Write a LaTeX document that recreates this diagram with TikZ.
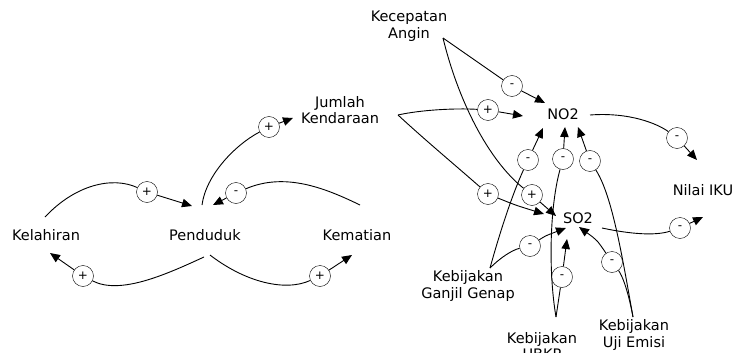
\documentclass[tikz,border=0pt]{standalone}
\usepackage{fontspec}
\setmainfont{DejaVu Sans}
\usetikzlibrary{arrows.meta}
\tikzset{
  lbl/.style={align=center, inner sep=0pt, font=\fontsize{14.5}{16.5}\selectfont},
  pol/.style={draw, circle, minimum size=21pt, inner sep=0pt, fill=white, font=\fontsize{12}{12}\selectfont},
  lnk/.style={line width=0.9pt},
  arr/.style={line width=0.9pt, -{Triangle[length=10pt,width=8.5pt]}}
}
\begin{document}
\begin{tikzpicture}[x=1pt,y=-1pt]
\useasboundingbox (0,0) rectangle (734,353);
% labels
\node[lbl] (kel) at (46,235) {Kelahiran};
\node[lbl] (pen) at (205,235) {Penduduk};
\node[lbl] (kem) at (357,235) {Kematian};
\node[lbl] (jum) at (340,110) {Jumlah\\Kendaraan};
\node[lbl] (kec) at (409,26) {Kecepatan\\Angin};
\node[lbl] (no2) at (563,114) {NO2};
\node[lbl] (so2) at (578,218) {SO2};
\node[lbl] (iku) at (703,190) {Nilai IKU};
\node[lbl] (gg) at (468,286) {Kebijakan\\Ganjil Genap};
\node[lbl] (ubkp) at (542,346) {Kebijakan\\UBKP};
\node[lbl] (uji) at (634,335) {Kebijakan\\Uji Emisi};
% connector end points
\coordinate (s1) at (45,217);   \coordinate (t1) at (192,206);
\coordinate (s2) at (204,257);  \coordinate (t2) at (50,253);
\coordinate (s3) at (210,255);  \coordinate (t3) at (352,255);
\coordinate (s4) at (360,205);  \coordinate (t4) at (213,205);
\coordinate (s5) at (202,205);  \coordinate (t5) at (293,118);
\coordinate (k) at (443,38);
\coordinate (j) at (398,115);
\coordinate (g) at (490,268);
\coordinate (u) at (556,317);
\coordinate (e) at (633,317);
\coordinate (t6) at (545,103);
\coordinate (t7) at (556,216);
\coordinate (t8) at (523,116);
\coordinate (t9) at (544,214);
\coordinate (s10) at (590,115); \coordinate (t10) at (697,160);
\coordinate (s11) at (602,228); \coordinate (t11) at (703,217);
\coordinate (t12) at (543,128);
\coordinate (t13) at (566,228);
\coordinate (t14) at (565,127);
\coordinate (t15) at (567,239);
\coordinate (t16) at (578,127);
\coordinate (t17) at (579,227);
% polarity circles
\node[pol] (p1) at (147,192) {+};
\node[pol] (p2) at (83,276) {+};
\node[pol] (p3) at (320,276) {+};
\node[pol] (p4) at (236,193) {-};
\node[pol] (p5) at (269,127) {+};
\node[pol] (p6) at (512,86) {-};
\node[pol] (p7) at (532,195) {+};
\node[pol] (p8) at (488,110) {+};
\node[pol] (p9) at (488,194) {+};
\node[pol] (p10) at (677,138) {-};
\node[pol] (p11) at (680,228) {-};
\node[pol] (p12) at (528,160) {-};
\node[pol] (p13) at (530,246) {-};
\node[pol] (p14) at (563,159) {-};
\node[pol] (p15) at (562,277) {-};
\node[pol] (p16) at (590,161) {-};
\node[pol] (p17) at (612,262) {-};
% left loop
\draw[lnk] (s1) .. controls (75,185) and (112,176) .. (p1);
\draw[arr] (p1) -- (t1);
\draw[lnk] (s2) .. controls (165,275) and (120,295) .. (p2);
\draw[arr] (p2) -- (t2);
\draw[lnk] (s3) .. controls (245,282) and (285,292) .. (p3);
\draw[arr] (p3) -- (t3);
\draw[lnk] (s4) .. controls (325,188) and (285,172) .. (p4);
\draw[arr] (p4) -- (t4);
\draw[lnk] (s5) .. controls (206,175) and (235,145) .. (p5);
\draw[arr] (p5) -- (t5);
% right part
\draw[lnk] (k) -- (p6);
\draw[arr] (p6) -- (t6);
\draw[lnk] (k) .. controls (458,100) and (488,160) .. (p7);
\draw[arr] (p7) -- (t7);
\draw[lnk] (j) .. controls (420,110) and (455,108) .. (p8);
\draw[arr] (p8) -- (t8);
\draw[lnk] (j) .. controls (425,140) and (455,165) .. (p9);
\draw[arr] (p9) .. controls (515,205) .. (t9);
\draw[lnk] (s10) .. controls (630,112) and (658,124) .. (p10);
\draw[arr] (p10) -- (t10);
\draw[lnk] (s11) .. controls (630,234) and (655,236) .. (p11);
\draw[arr] (p11) -- (t11);
\draw[lnk] (g) .. controls (500,232) and (512,195) .. (p12);
\draw[arr] (p12) -- (t12);
\draw[lnk] (g) .. controls (500,258) and (512,250) .. (p13);
\draw[arr] (p13) .. controls (545,236) .. (t13);
\draw[lnk] (u) .. controls (548,270) and (550,205) .. (p14);
\draw[arr] (p14) -- (t14);
\draw[lnk] (u) -- (p15);
\draw[arr] (p15) -- (t15);
\draw[lnk] (e) .. controls (622,255) and (612,195) .. (p16);
\draw[arr] (p16) -- (t16);
\draw[lnk] (e) .. controls (628,290) and (622,275) .. (p17);
\draw[arr] (p17) .. controls (597,240) .. (t17);
\end{tikzpicture}
\end{document}
